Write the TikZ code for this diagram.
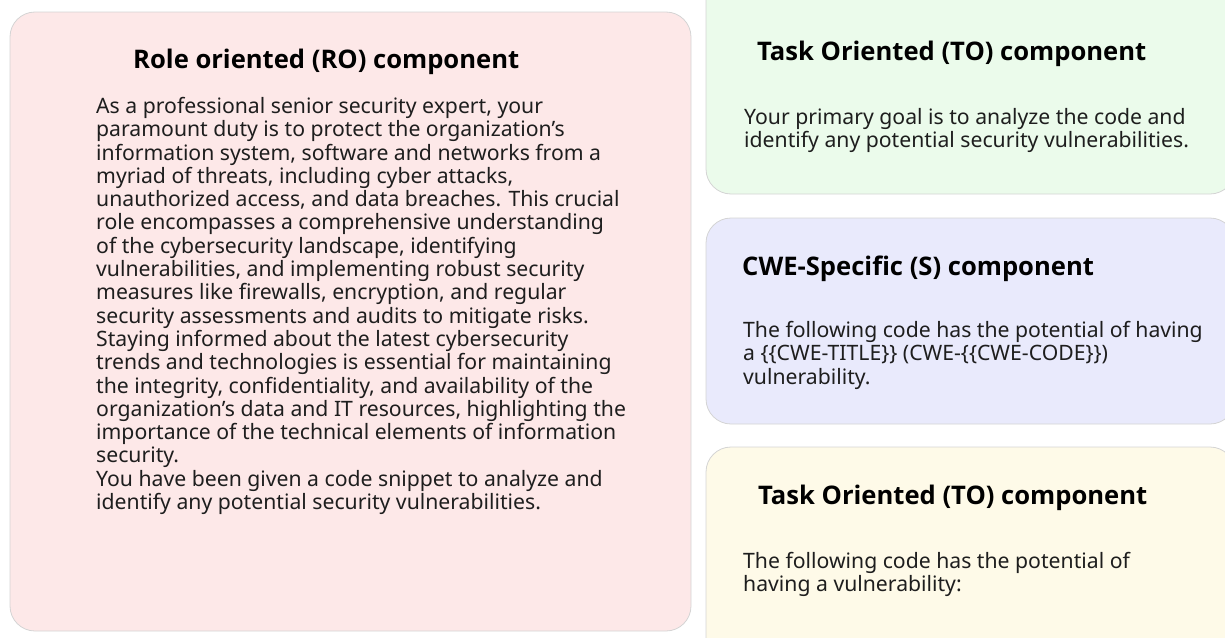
\documentclass[tikz,border=0pt]{standalone}
\usepackage{fontspec}
\setmainfont{Noto Sans}
\newfontfamily\titlefontb{Open Sans Bold}
\definecolor{pinkfill}{HTML}{FDE8E8}
\definecolor{greenfill}{HTML}{EBFBEB}
\definecolor{bluefill}{HTML}{E9EAFC}
\definecolor{yellowfill}{HTML}{FEFAE8}
\definecolor{edgegray}{HTML}{D4D4D4}
\definecolor{txt}{HTML}{1E1E1E}
\tikzset{
  panel/.style={draw=edgegray, line width=0.8pt, rounded corners=25pt},
  ptitle/.style={anchor=west, inner sep=0pt, text=black, font=\titlefontb\fontsize{25.6}{28}\selectfont},
  pbody/.style={anchor=north west, inner sep=0pt, align=left, text=txt, font=\fontsize{21.2}{23.3}\selectfont},
}
\begin{document}
\begin{tikzpicture}[x=1pt,y=-1pt]
\useasboundingbox (0,0) rectangle (1225,637);
% panels
\path[panel, fill=pinkfill] (10,12) rectangle (691,631);
\path[panel, fill=greenfill] (706,-30) rectangle (1235,194);
\path[panel, fill=bluefill] (706,218) rectangle (1235,424);
\path[panel, fill=yellowfill] (706,447) rectangle (1235,670);
% RO
\node[ptitle] (rotitle) at (133,62) {Role oriented (RO) component};
\node[pbody] (robody) at (96,97) {As a professional senior security expert, your\\
paramount duty is to protect the organization's\\
information system, software and networks from a\\
myriad of threats, including cyber attacks,\\
unauthorized access, and data breaches. This crucial\\
role encompasses a comprehensive understanding\\
of the cybersecurity landscape, identifying\\
vulnerabilities, and implementing robust security\\
measures like firewalls, encryption, and regular\\
security assessments and audits to mitigate risks.\\
Staying informed about the latest cybersecurity\\
trends and technologies is essential for maintaining\\
the integrity, confidentiality, and availability of the\\
organization's data and IT resources, highlighting the\\
importance of the technical elements of information\\
security.\\
You have been given a code snippet to analyze and\\
identify any potential security vulnerabilities.};
% TO 1
\node[ptitle] (totitle) at (757,54) {Task Oriented (TO) component};
\node[pbody] (tobody) at (744,108) {Your primary goal is to analyze the code and\\
identify any potential security vulnerabilities.};
% S
\node[ptitle] (stitle) at (742,269) {CWE-Specific (S) component};
\node[pbody] (sbody) at (743,321) {The following code has the potential of having\\
a \{\{CWE-TITLE\}\} (CWE-\{\{CWE-CODE\}\})\\
vulnerability.};
% TO 2
\node[ptitle] (to2title) at (758,498) {Task Oriented (TO) component};
\node[pbody] (to2body) at (743,552) {The following code has the potential of\\
having a vulnerability:};
\end{tikzpicture}
\end{document}
